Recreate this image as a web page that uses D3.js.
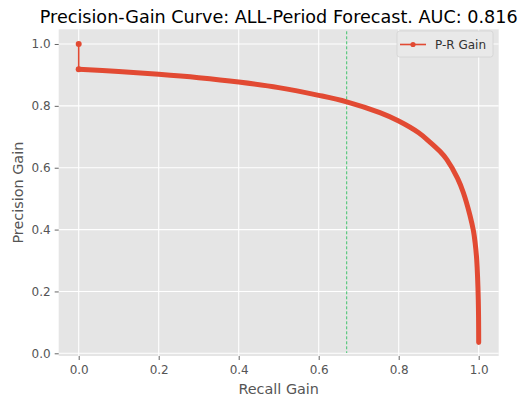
<!DOCTYPE html>
<html><head><meta charset="utf-8">
<script src="https://cdn.jsdelivr.net/npm/d3@7"></script>
<style>body{margin:0;background:#fff}svg{display:block}text{font-family:"DejaVu Sans",sans-serif}</style>
</head><body><svg id="c" width="522" height="400"></svg>
<script>
const recallGain    = [0, 0, 0.1, 0.2, 0.3, 0.4, 0.5, 0.6, 0.67, 0.753, 0.8, 0.85, 0.878, 0.903, 0.92, 0.9475, 0.9615, 0.978, 0.987, 0.991, 0.995, 0.999, 1.0];
const precisionGain = [1.0, 0.918, 0.911, 0.902, 0.891, 0.877, 0.859, 0.834, 0.813, 0.778, 0.751, 0.713, 0.683, 0.653, 0.627, 0.565, 0.520, 0.447, 0.395, 0.358, 0.303, 0.172, 0.035];
const xTicks = [0, 0.2, 0.4, 0.6, 0.8, 1.0];
const yTicks = [0, 0.2, 0.4, 0.6, 0.8, 1.0];
const threshold = [0.67];
const title = "Precision-Gain Curve: ALL-Period Forecast. AUC: 0.816";
const legendLabel = "P-R Gain";

const svg = d3.select("#c");
const L = 58.7, R = 498.7, T = 29.3, B = 356;
const x = d3.scaleLinear().domain([-0.05, 1.05]).range([L, R]);
const y = d3.scaleLinear().domain([-0.0087, 1.0475]).range([B, T]);
const red = "#E24A33";

svg.append("rect").attr("x", L).attr("y", T).attr("width", R - L).attr("height", B - T).attr("fill", "#E5E5E5");

// grid
svg.append("g").selectAll("line").data(xTicks).join("line")
  .attr("x1", d => x(d)).attr("x2", d => x(d)).attr("y1", T).attr("y2", B)
  .attr("stroke", "#fff").attr("stroke-width", 1.1);
svg.append("g").selectAll("line").data(yTicks).join("line")
  .attr("y1", d => y(d)).attr("y2", d => y(d)).attr("x1", L).attr("x2", R)
  .attr("stroke", "#fff").attr("stroke-width", 1.1);

// axes
const xa = svg.append("g").attr("transform", `translate(0,${B})`)
  .call(d3.axisBottom(x).tickValues(xTicks).tickFormat(d3.format(".1f")).tickSize(4).tickPadding(5));
const ya = svg.append("g").attr("transform", `translate(${L},0)`)
  .call(d3.axisLeft(y).tickValues(yTicks).tickFormat(d3.format(".1f")).tickSize(4).tickPadding(4));
[xa, ya].forEach(a => {
  a.select(".domain").remove();
  a.selectAll(".tick line").attr("stroke", "#555").attr("stroke-width", 0.9);
  a.selectAll(".tick text").attr("fill", "#555").style("font-size", "12px").style("font-family", "DejaVu Sans");
});

// threshold line
svg.append("g").selectAll("line").data(threshold).join("line")
  .attr("x1", d => x(d)).attr("x2", d => x(d)).attr("y1", T + 2).attr("y2", B - 3)
  .attr("stroke", "#2fbf5f").attr("stroke-width", 0.9).attr("stroke-dasharray", "3,2");

// curve
const pts = recallGain.map((r, i) => [r, precisionGain[i]]);
const thin = d3.line().x(d => x(d[0])).y(d => y(d[1]));
svg.append("path").attr("d", thin(pts.slice(0, 2))).attr("fill", "none").attr("stroke", red).attr("stroke-width", 1.6);
const thick = d3.line().x(d => x(d[0])).y(d => y(d[1])).curve(d3.curveCatmullRom.alpha(0.5));
svg.append("path").attr("d", thick(pts.slice(1))).attr("fill", "none").attr("stroke", red)
  .attr("stroke-width", 5).attr("stroke-linecap", "round").attr("stroke-linejoin", "round");
svg.append("circle").attr("cx", x(pts[0][0])).attr("cy", y(pts[0][1])).attr("r", 3).attr("fill", red);
svg.append("circle").attr("cx", x(pts[1][0])).attr("cy", y(pts[1][1])).attr("r", 3).attr("fill", red);

// legend
const lg = svg.append("g");
lg.append("rect").attr("x", 397).attr("y", 31).attr("width", 96).attr("height", 26).attr("rx", 2.5)
  .attr("fill", "#e9e9e9").attr("stroke", "#d2d2d2").attr("stroke-width", 0.8);
lg.append("line").attr("x1", 400).attr("x2", 426).attr("y1", 44.5).attr("y2", 44.5).attr("stroke", red).attr("stroke-width", 1.6);
lg.append("circle").attr("cx", 413).attr("cy", 44.5).attr("r", 2.6).attr("fill", red);
lg.append("text").attr("x", 435).attr("y", 48.8).text(legendLabel).style("font-size", "12px").attr("fill", "#333");

// title & labels
svg.append("text").attr("x", (L + R) / 2).attr("y", 23).attr("text-anchor", "middle")
  .style("font-size", "17.6px").attr("fill", "#000").text(title);
svg.append("text").attr("x", (L + R) / 2).attr("y", 394).attr("text-anchor", "middle")
  .style("font-size", "14.4px").attr("fill", "#555").text("Recall Gain");
svg.append("text").attr("transform", `translate(22.5,${(T + B) / 2}) rotate(-90)`).attr("text-anchor", "middle")
  .style("font-size", "14.4px").attr("fill", "#555").text("Precision Gain");
</script></body></html>
